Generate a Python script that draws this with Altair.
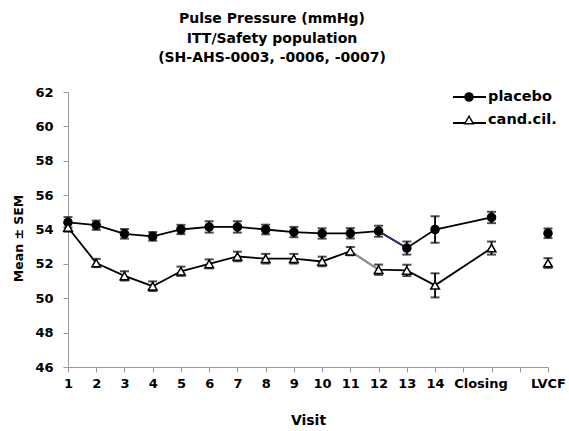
import altair as alt
import pandas as pd

# x positions on the visit axis: visits 1-14, then Closing (16) and LVCF (18)
positions = list(range(1, 15)) + [16, 18]
connected = [True] * 15 + [False]  # LVCF stands alone

placebo_mean = [54.42, 54.25, 53.75, 53.60, 54.00, 54.15, 54.15, 54.00,
                53.85, 53.77, 53.78, 53.90, 52.92, 54.00, 54.70, 53.78]
placebo_sem = [0.30, 0.27, 0.28, 0.25, 0.27, 0.33, 0.33, 0.28,
               0.30, 0.30, 0.30, 0.32, 0.38, 0.77, 0.33, 0.28]

candcil_mean = [54.12, 52.05, 51.30, 50.70, 51.57, 52.00, 52.43, 52.30,
                52.30, 52.14, 52.74, 51.66, 51.62, 50.75, 52.92, 52.05]
candcil_sem = [0.25, 0.24, 0.27, 0.28, 0.27, 0.26, 0.28, 0.28,
               0.28, 0.28, 0.24, 0.30, 0.33, 0.70, 0.38, 0.28]

series_names = ["placebo", "cand.cil."]
tick_values = list(range(1, 19))
y_ticks = list(range(46, 63, 2))

FONT = "DejaVu Sans"
AXIS_GREY = "#9a9a9a"

rows = []
for name, means, sems in [("placebo", placebo_mean, placebo_sem),
                          ("cand.cil.", candcil_mean, candcil_sem)]:
    for p, m, s, c in zip(positions, means, sems, connected):
        rows.append({"series": name, "pos": p, "mean": m,
                     "lo": m - s, "hi": m + s, "connected": c})
df = pd.DataFrame(rows)

# two line segments drawn in a different colour
seg_specs = [("placebo", placebo_mean, 11, "#2f2f8c"),
             ("cand.cil.", candcil_mean, 10, "#9a9a9a")]
segs = pd.DataFrame([
    {"series": n, "pos": positions[i], "pos2": positions[i + 1],
     "mean": vals[i], "mean2": vals[i + 1], "color": col}
    for n, vals, i, col in seg_specs
])

x_scale = alt.Scale(domain=[1, 18], nice=False, zero=False)
y_scale = alt.Scale(domain=[46, 62], nice=False, zero=False)
shape_scale = alt.Scale(domain=series_names, range=["circle", "triangle-up"])
fill_scale = alt.Scale(domain=series_names, range=["black", "white"])
size_scale = alt.Scale(domain=series_names, range=[65, 75])

x_axis = alt.Axis(
    values=tick_values,
    labelExpr=("datum.value <= 14 ? datum.value : "
               "datum.value == 16 ? 'Closing' : "
               "datum.value == 18 ? 'LVCF' : ''"),
    labelOffset={"condition": {"test": "datum.value == 16", "value": -11}, "value": 0},
    labelFlush=False, labelOverlap=False, grid=False,
    domainColor=AXIS_GREY, tickColor=AXIS_GREY, tickSize=5,
    labelPadding=5, title="Visit", titlePadding=23,
)
y_axis = alt.Axis(
    values=y_ticks, grid=False, labelFlush=False, labelOverlap=False,
    domainColor=AXIS_GREY, tickColor=AXIS_GREY, tickSize=5,
    labelPadding=10, title="Mean ± SEM", titlePadding=9, titleY=146,
    titleFontSize=12.5,
)

X = alt.X("pos:Q", scale=x_scale, axis=x_axis)
Y = alt.Y("mean:Q", scale=y_scale, axis=y_axis)

base = alt.Chart(df)

lines = base.transform_filter("datum.connected").mark_line(
    color="black", strokeWidth=1.8
).encode(x=X, y=Y, detail="series:N", order="pos:Q")

colored = alt.Chart(segs).mark_rule(strokeWidth=1.8).encode(
    x=X, x2="pos2:Q", y=Y, y2="mean2:Q",
    color=alt.Color("color:N", scale=None),
)

err = base.mark_rule(color="black", strokeWidth=1.8).encode(
    x=X, y=alt.Y("lo:Q", scale=y_scale, axis=y_axis), y2="hi:Q"
)
cap_lo = base.mark_tick(color="black", thickness=2, size=9, orient="horizontal").encode(
    x=X, y=alt.Y("lo:Q", scale=y_scale, axis=y_axis)
)
cap_hi = base.mark_tick(color="black", thickness=2, size=9, orient="horizontal").encode(
    x=X, y=alt.Y("hi:Q", scale=y_scale, axis=y_axis)
)

points = base.mark_point(filled=True, stroke="black", strokeWidth=1.5, opacity=1).encode(
    x=X,
    y=Y,
    shape=alt.Shape("series:N", scale=shape_scale, legend=None),
    fill=alt.Fill("series:N", scale=fill_scale, legend=None),
    size=alt.Size("series:N", scale=size_scale, legend=None),
)

# key in the upper right: a short line with the series marker, then its name
legend_layers = []
for i, name in enumerate(series_names):
    ly = 5 + 23 * i
    key = alt.Chart(pd.DataFrame({"series": [name]}))
    legend_layers += [
        key.mark_rule(color="black", strokeWidth=1.8).encode(
            x=alt.value(385), x2=alt.value(418), y=alt.value(ly + (3 if i else 0))
        ),
        key.mark_point(filled=True, stroke="black", strokeWidth=1.5, opacity=1).encode(
            x=alt.value(401), y=alt.value(ly),
            shape=alt.Shape("series:N", scale=shape_scale, legend=None),
            fill=alt.Fill("series:N", scale=fill_scale, legend=None),
            size=alt.Size("series:N", scale=size_scale, legend=None),
        ),
        key.mark_text(align="left", baseline="middle", font=FONT, fontSize=14.5,
                      fontWeight="bold", color="black").encode(
            x=alt.value(420), y=alt.value(ly), text="series:N"
        ),
    ]

chart = alt.layer(lines, colored, err, cap_lo, cap_hi, points, *legend_layers).properties(
    width=480,
    height=275,
    background="white",
    title=alt.TitleParams(
        text=["Pulse Pressure (mmHg)", "ITT/Safety population",
              "(SH-AHS-0003, -0006, -0007)"],
        font=FONT, fontSize=14, fontWeight="bold", color="black",
        anchor="middle", dx=-36, offset=21, lineHeight=19.5,
    ),
    autosize=alt.AutoSizeParams(type="none"),
    padding={"left": 68, "top": 92, "right": 21, "bottom": 64},
).configure_view(
    stroke=None
).configure_axis(
    labelFont=FONT, labelFontSize=13, labelFontWeight="bold", labelColor="black",
    titleFont=FONT, titleFontSize=14, titleFontWeight="bold", titleColor="black",
    labelOverlap=False, labelFlush=False,
)

chart.save("out.html", embed_options={"renderer": "svg", "actions": False})
